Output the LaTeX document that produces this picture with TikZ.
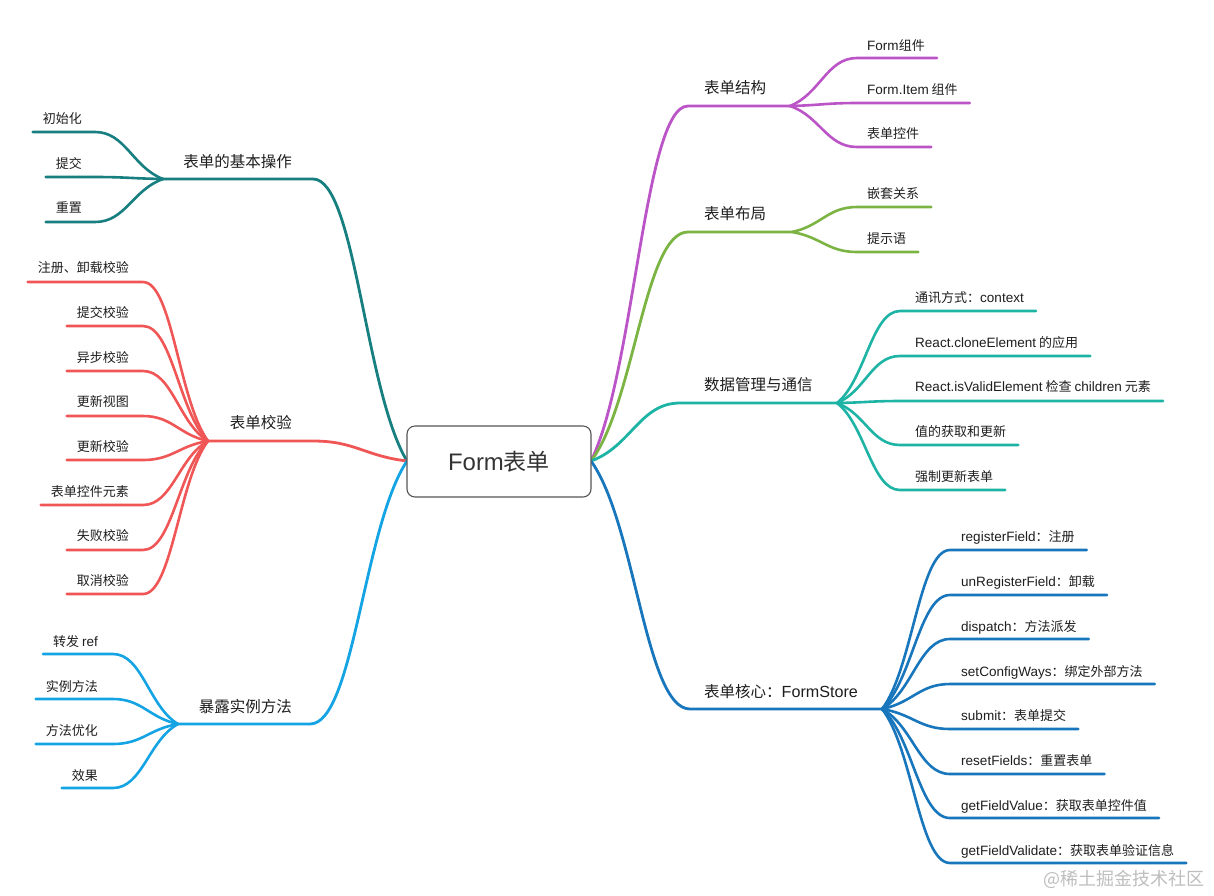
\documentclass[tikz,border=0pt]{standalone}
\usepackage{fontspec}
\setmainfont{Noto Sans CJK SC}
\newfontfamily\latf[Scale=1.04]{Liberation Sans}
\newcommand\LS[1]{{\latf #1}}
\usetikzlibrary{calc}
\definecolor{cA}{RGB}{23,127,128}
\definecolor{cB}{RGB}{240,86,86}
\definecolor{cC}{RGB}{20,164,228}
\definecolor{cD}{RGB}{187,84,198}
\definecolor{cE}{RGB}{124,180,68}
\definecolor{cF}{RGB}{30,180,165}
\definecolor{cG}{RGB}{24,118,188}
\definecolor{txt}{RGB}{30,30,30}
\definecolor{txtroot}{RGB}{51,51,51}
\definecolor{rootline}{RGB}{85,85,85}
\definecolor{wmark}{RGB}{190,190,190}
% curve from #2 (junction) to #3 (start of horizontal), then straight to #4
\newcommand\link[4]{%
  \draw[#1] let \p1=(#2), \p2=(#3) in
    (#2) .. controls ({\x2+0.55*(\x1-\x2)},{\y2+0.75*(\y1-\y2)}) and ({\x2+0.45*(\x1-\x2)},\y2) .. (#3) -- (#4);}
\begin{document}
\begin{tikzpicture}[x=1pt,y=-1pt,line cap=round,line join=round,
  lbl/.style={inner sep=0pt,font=\fontsize{15.5}{18}\selectfont,text=txt,text height=11.8pt,text depth=0pt},
  leaf/.style={inner sep=0pt,font=\fontsize{13}{15}\selectfont,text=txt,text height=9.9pt,text depth=0pt},
  main/.style={line width=2.8pt},
  sub/.style={line width=2.6pt},
  rootbox/.style={draw=rootline,line width=1.1pt,rounded corners=8pt,fill=white,
    minimum width=184pt,minimum height=71pt,inner sep=0pt,
    font=\fontsize{23}{26}\selectfont,text=txtroot}]
\fill[white] (0,0) rectangle (1214,895);
\useasboundingbox (0,0) rectangle (1214,895);

% ---------- left: 表单的基本操作 ----------
\coordinate (jA) at (163,179);
\coordinate (hA) at (313,179);
\coordinate (rl) at (407,461);
\coordinate (rr) at (591,461);
\link{main,cA}{rl}{hA}{jA}
\node[lbl,anchor=east] (lA) at (292,162) {表单的基本操作};
\foreach \t/\ty/\ly [count=\i] in {初始化/119/132, 提交/164/177, 重置/208/222}{
  \node[leaf,anchor=east] (a\i) at (82,\ty) {\t};
  \coordinate (ca\i) at (95,\ly);
  \link{sub,cA}{jA}{ca\i}{$(a\i.west|-ca\i)+(-10,0)$}
}

% ---------- left: 表单校验 ----------
\coordinate (jB) at (208,441);
\coordinate (hB) at (313,441);
\link{main,cB}{rl}{hB}{jB}
\node[lbl,anchor=east] (lB) at (292,423) {表单校验};
\foreach \t/\ty/\ly [count=\i] in {注册、卸载校验/268/282, 提交校验/313/326, 异步校验/358/371,
   更新视图/402/416, 更新校验/447/460, 表单控件元素/492/505, 失败校验/536/550, 取消校验/581/594}{
  \node[leaf,anchor=east] (b\i) at (129,\ty) {\t};
  \coordinate (cb\i) at (143,\ly);
  \link{sub,cB}{jB}{cb\i}{$(b\i.west|-cb\i)+(-10,0)$}
}

% ---------- left: 暴露实例方法 ----------
\coordinate (jC) at (178,724);
\coordinate (hC) at (310,724);
\link{main,cC}{rl}{hC}{jC}
\node[lbl,anchor=east] (lC) at (292,707) {暴露实例方法};
\foreach \t/\ty/\ly [count=\i] in {{转发 \LS{ref}}/642/654, 实例方法/687/699, 方法优化/731/744, 效果/776/788}{
  \node[leaf,anchor=east] (c\i) at (98,\ty) {\t};
  \coordinate (cc\i) at (113,\ly);
  \link{sub,cC}{jC}{cc\i}{$(c\i.west|-cc\i)+(-10,0)$}
}

% ---------- right: 表单结构 ----------
\coordinate (jD) at (790,106);
\coordinate (hD) at (688,106);
\link{main,cD}{rr}{hD}{jD}
\node[lbl,anchor=west] (lD) at (704,88) {表单结构};
\foreach \t/\ty/\ly [count=\i] in {{\LS{Form}组件}/46/58, {\LS{Form.Item} 组件}/90/103, 表单控件/134/147}{
  \node[leaf,anchor=west] (d\i) at (867,\ty) {\t};
  \coordinate (cd\i) at (857,\ly);
  \link{sub,cD}{jD}{cd\i}{$(d\i.east|-cd\i)+(12,0)$}
}

% ---------- right: 表单布局 ----------
\coordinate (jE) at (792,232);
\coordinate (hE) at (688,232);
\link{main,cE}{rr}{hE}{jE}
\node[lbl,anchor=west] (lE) at (704,214) {表单布局};
\foreach \t/\ty/\ly [count=\i] in {嵌套关系/194/207, 提示语/239/252}{
  \node[leaf,anchor=west] (e\i) at (867,\ty) {\t};
  \coordinate (ce\i) at (857,\ly);
  \link{sub,cE}{jE}{ce\i}{$(e\i.east|-ce\i)+(12,0)$}
}

% ---------- right: 数据管理与通信 ----------
\coordinate (jF) at (837,403);
\coordinate (hF) at (680,403);
\link{main,cF}{rr}{hF}{jF}
\node[lbl,anchor=west] (lF) at (704,385) {数据管理与通信};
\foreach \t/\ty/\ly [count=\i] in {{通讯方式：\LS{context}}/298/311,
   {\LS{React.cloneElement} 的应用}/343/356,
   {\LS{React.isValidElement} 检查 \LS{children} 元素}/387/401,
   值的获取和更新/432/445, 强制更新表单/477/490}{
  \node[leaf,anchor=west] (f\i) at (915,\ty) {\t};
  \coordinate (cf\i) at (900,\ly);
  \link{sub,cF}{jF}{cf\i}{$(f\i.east|-cf\i)+(12,0)$}
}

% ---------- right: 表单核心：FormStore ----------
\coordinate (jG) at (882,709);
\coordinate (hG) at (690,709);
\link{main,cG}{rr}{hG}{jG}
\node[lbl,anchor=west] (lG) at (704,692) {表单核心：\LS{FormStore}};
\foreach \t/\ty/\ly [count=\i] in {{\LS{registerField}：注册}/537/550,
   {\LS{unRegisterField}：卸载}/582/595,
   {\LS{dispatch}：方法派发}/627/639,
   {\LS{setConfigWays}：绑定外部方法}/672/684,
   {\LS{submit}：表单提交}/716/729,
   {\LS{resetFields}：重置表单}/761/774,
   {\LS{getFieldValue}：获取表单控件值}/806/818,
   {\LS{getFieldValidate}：获取表单验证信息}/851/863}{
  \node[leaf,anchor=west] (g\i) at (961,\ty) {\t};
  \coordinate (cg\i) at (950,\ly);
  \link{sub,cG}{jG}{cg\i}{$(g\i.east|-cg\i)+(12,0)$}
}

% ---------- root ----------
\node[rootbox] (root) at (499,461.5) {\LS{Form}表单};

% ---------- watermark ----------
\node[inner sep=0pt,anchor=east,font=\fontsize{18}{20}\selectfont,text=wmark] (wm) at (1205,879) {@稀土掘金技术社区};
\end{tikzpicture}
\end{document}
